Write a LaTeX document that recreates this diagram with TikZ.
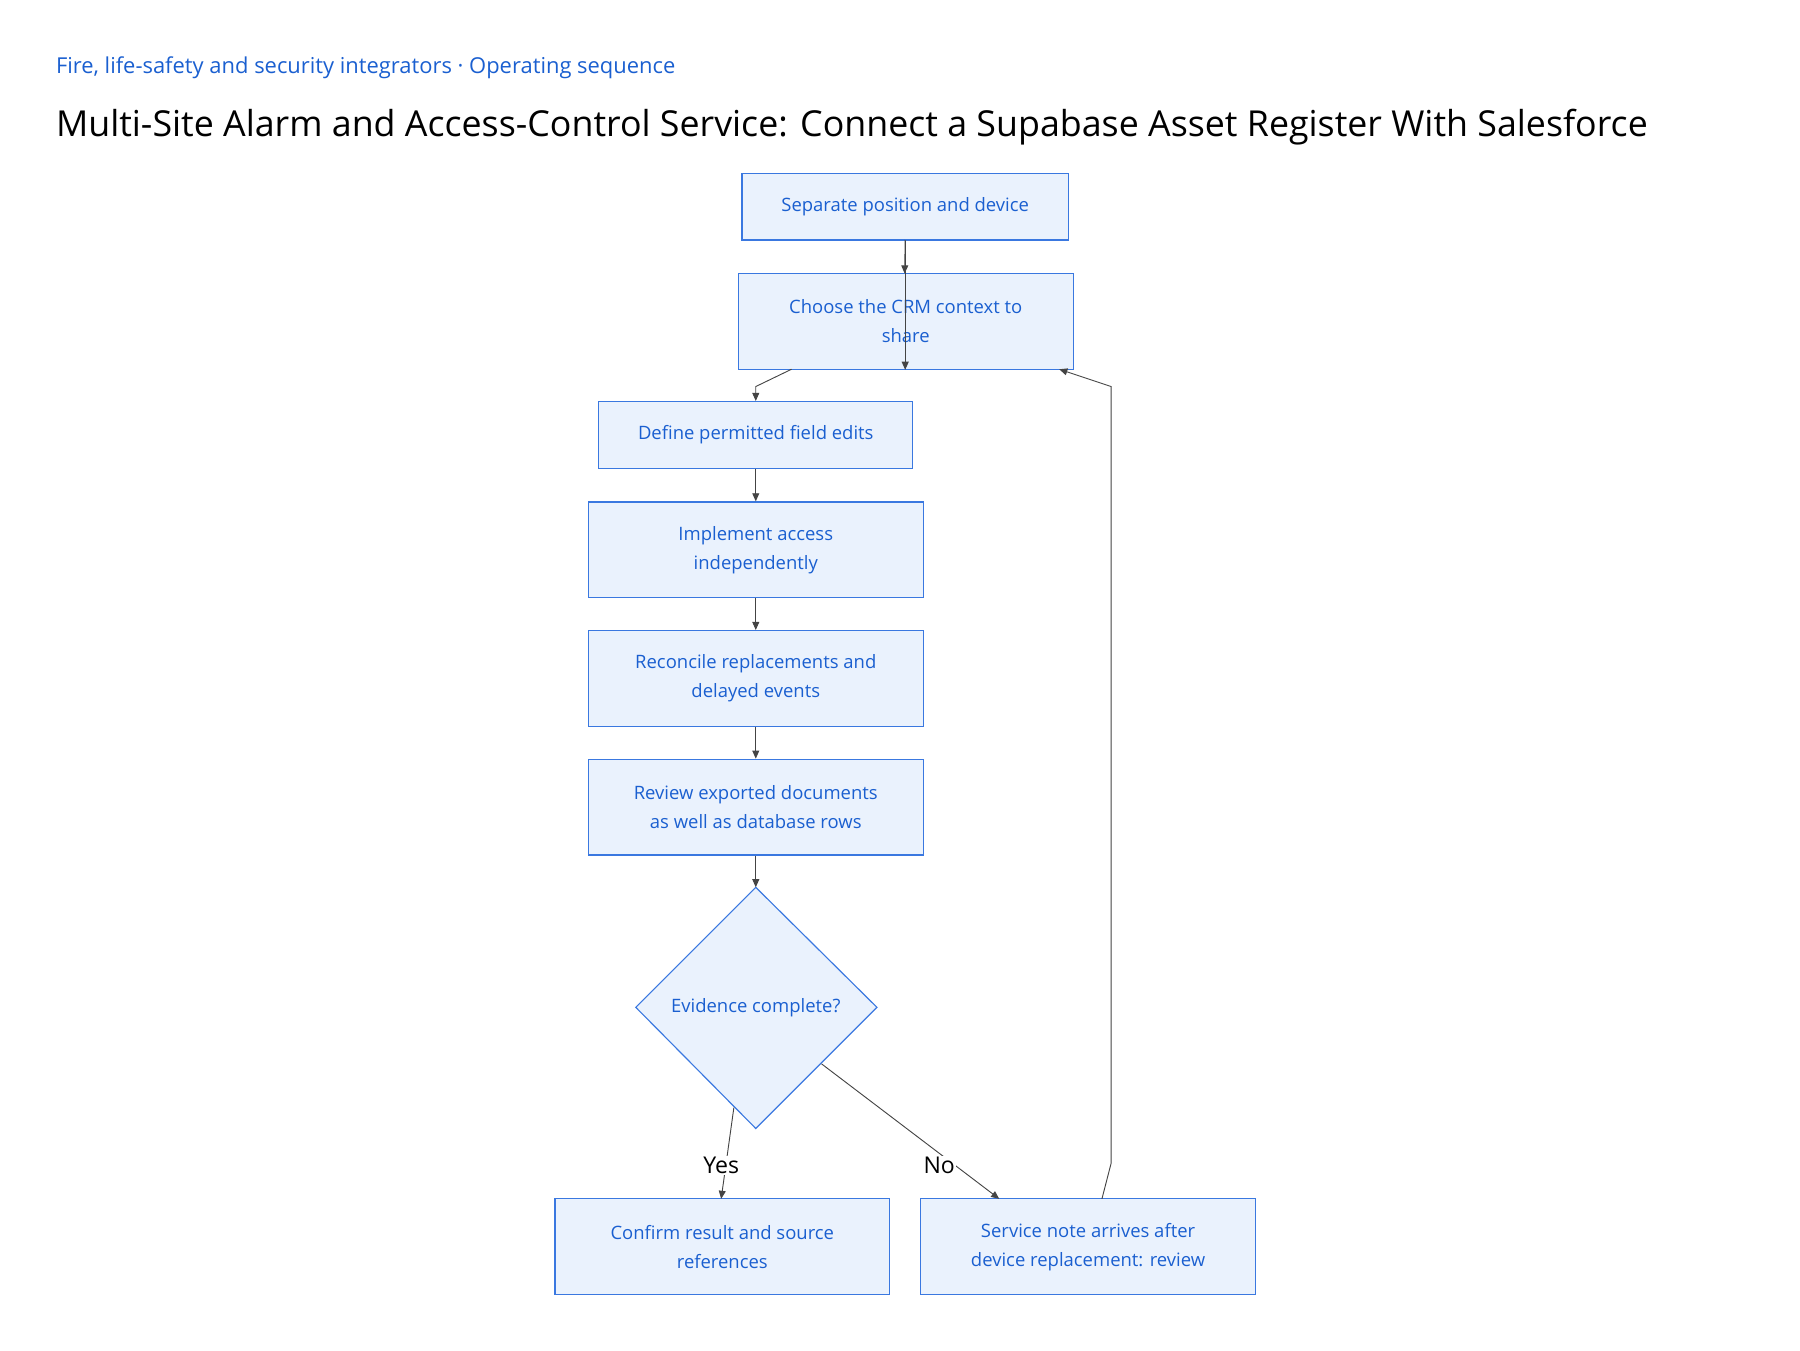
\documentclass[tikz,border=0pt]{standalone}
\usepackage{fontspec}
\setmainfont{Open Sans}
\usetikzlibrary{arrows.meta}
\definecolor{bfill}{HTML}{EAF2FD}
\definecolor{bdraw}{HTML}{3A78E0}
\definecolor{btext}{HTML}{1A5FD0}
\definecolor{edge}{HTML}{444444}
\begin{document}
\begin{tikzpicture}[x=1pt,y=-1pt,
  box/.style={draw=bdraw,fill=bfill,text=btext,line width=1pt,font=\fontsize{16}{25}\selectfont,align=center},
  conn/.style={draw=edge,line width=0.8pt,-{Triangle[length=7pt,width=6pt]}},
  lbl/.style={fill=white,font=\fontsize{20}{24}\selectfont,text=black,inner sep=1pt}]
\useasboundingbox (0,0) rectangle (1560,1170);
\node[anchor=base west,text=btext,font=\fontsize{19}{23}\selectfont] (sub) at (45,64) {Fire, life-safety and security integrators · Operating sequence};
\node[anchor=base west,text=black,font=\fontsize{31}{36}\selectfont] (title) at (45,118) {Multi-Site Alarm and Access-Control Service: Connect a Supabase Asset Register With Salesforce};
\node[box,minimum width=283pt,minimum height=58pt] (n1) at (784.5,179) {Separate position and device};
\node[box,minimum width=290pt,minimum height=83pt] (n2) at (785,278.5) {Choose the CRM context to\\share};
\node[box,minimum width=272pt,minimum height=58pt] (n3) at (655,377) {Define permitted field edits};
\node[box,minimum width=290pt,minimum height=83pt] (n4) at (655,476.5) {Implement access\\independently};
\node[box,minimum width=290pt,minimum height=83pt] (n5) at (655,588) {Reconcile replacements and\\delayed events};
\node[box,minimum width=290pt,minimum height=83pt] (n6) at (655,699.5) {Review exported documents\\as well as database rows};
\draw[box] (655,769) -- (760,873) -- (655,978) -- (551,873) -- cycle;
\node[text=btext,font=\fontsize{16}{20}\selectfont] (d) at (655,873) {Evidence complete?};
\coordinate (dt) at (655,769);
\coordinate (dbl) at (636,960);
\coordinate (dbr) at (712,922);
\node[box,minimum width=290pt,minimum height=83pt] (yes) at (626,1080.5) {Confirm result and source\\references};
\node[box,minimum width=290pt,minimum height=83pt] (no) at (943,1080.5) {Service note arrives after\\device replacement: review};
\draw[conn] (n1.south) -- (n2.south -| n1.south) ;
\draw[conn] (n1) ++(0,29) -- (784,237);
\draw[conn] (686,320) -- (655,335) -- (n3.north);
\draw[conn] (n3.south) -- (n4.north);
\draw[conn] (n4.south) -- (n5.north);
\draw[conn] (n5.south) -- (n6.north);
\draw[conn] (n6.south) -- (dt);
\draw[conn] (dbl) -- (625,1039);
\draw[conn] (dbr) -- (866,1039);
\draw[conn] (955,1039) -- (963,1008) -- (963,335) -- (918,320);
\node[lbl] (ly) at (625,1010) {Yes};
\node[lbl] (ln) at (814,1010) {No};
\end{tikzpicture}
\end{document}
